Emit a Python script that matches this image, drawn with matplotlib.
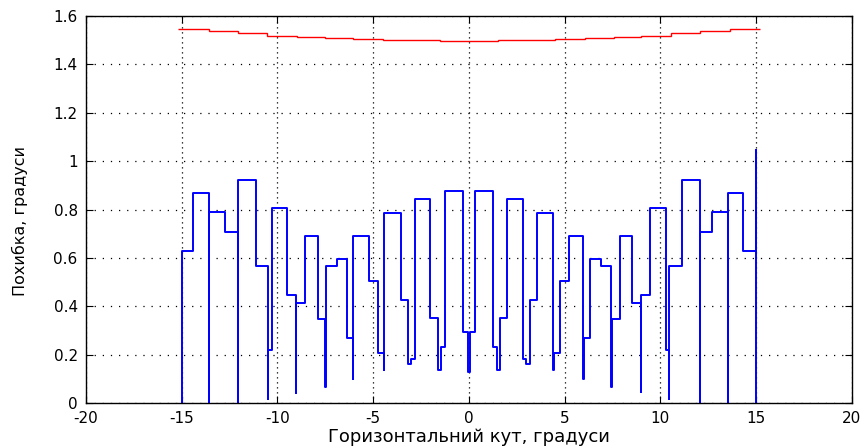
import matplotlib
matplotlib.use("Agg")
import matplotlib.pyplot as plt
from matplotlib.ticker import FuncFormatter

plt.rcParams['axes.unicode_minus'] = False

# blue curve: vertices of the stepped error line (angle, error)
blue_x = [-15, -15, -14.42, -14.42, -13.55, -13.55, -13.55, -12.75, -12.75, -12.07,
          -12.07, -12.07, -11.13, -11.13, -10.5, -10.5, -10.5, -10.31, -10.31, -9.49,
          -9.49, -9.02, -9.02, -9.02, -8.55, -8.55, -7.9, -7.9, -7.52, -7.52,
          -7.49, -7.49, -6.87, -6.87, -6.35, -6.35, -6.07, -6.07, -6.03, -6.03,
          -5.23, -5.23, -4.75, -4.75, -4.46, -4.46, -4.42, -4.42, -3.57, -3.57,
          -3.2, -3.2, -3.02, -3.02, -2.83, -2.83, -2.01, -2.01, -1.62, -1.62,
          -1.48, -1.48, -1.24, -1.24, -0.32, -0.32, -0.03, -0.03, 0.03, 0.03,
          0.33, 0.33, 1.25, 1.25, 1.46, 1.46, 1.63, 1.63, 2.0, 2.0,
          2.82, 2.82, 3.0, 3.0, 3.2, 3.2, 3.56, 3.56, 4.4, 4.4,
          4.44, 4.44, 4.74, 4.74, 5.21, 5.21, 5.96, 5.96, 6.0, 6.0,
          6.34, 6.34, 6.88, 6.88, 7.43, 7.43, 7.47, 7.47, 7.87, 7.87,
          8.53, 8.53, 9.0, 9.0, 9.0, 9.47, 9.47, 10.28, 10.28, 10.47,
          10.47, 10.47, 11.12, 11.12, 12.08, 12.08, 12.08, 12.7, 12.7, 13.52,
          13.52, 13.52, 14.33, 14.33, 15.0, 15.0, 15.0]
blue_y = [0, 0.63, 0.63, 0.868, 0.868, 0, 0.789, 0.789, 0.709, 0.709,
          0, 0.923, 0.923, 0.567, 0.567, 0.017, 0.22, 0.22, 0.806, 0.806,
          0.446, 0.446, 0.043, 0.414, 0.414, 0.692, 0.692, 0.348, 0.348, 0.065,
          0.065, 0.567, 0.567, 0.596, 0.596, 0.267, 0.267, 0.099, 0.099, 0.692,
          0.692, 0.506, 0.506, 0.208, 0.208, 0.137, 0.137, 0.784, 0.784, 0.426,
          0.426, 0.161, 0.161, 0.182, 0.182, 0.843, 0.843, 0.352, 0.352, 0.137,
          0.137, 0.23, 0.23, 0.876, 0.876, 0.292, 0.292, 0.127, 0.127, 0.292,
          0.292, 0.876, 0.876, 0.23, 0.23, 0.137, 0.137, 0.352, 0.352, 0.843,
          0.843, 0.182, 0.182, 0.161, 0.161, 0.426, 0.426, 0.784, 0.784, 0.137,
          0.137, 0.208, 0.208, 0.506, 0.506, 0.692, 0.692, 0.099, 0.099, 0.267,
          0.267, 0.596, 0.596, 0.568, 0.568, 0.065, 0.065, 0.348, 0.348, 0.692,
          0.692, 0.414, 0.414, 0.044, 0.445, 0.445, 0.806, 0.806, 0.22, 0.22,
          0.017, 0.567, 0.567, 0.923, 0.923, 0, 0.709, 0.709, 0.789, 0.789,
          0, 0.868, 0.868, 0.63, 0.63, 1.047, 0]

# red curve: step edges and levels
red_edges = [-15.2, -13.6, -12.05, -10.52, -9.0, -7.52, -6.05, -4.5, -1.5, 1.5,
             4.48, 6.05, 7.57, 9.0, 10.55, 12.05, 13.62, 15.2]
red_levels = [1.548, 1.540, 1.529, 1.519, 1.512, 1.508, 1.504, 1.500, 1.495,
              1.500, 1.505, 1.511, 1.515, 1.519, 1.529, 1.539, 1.547]

x_ticks = [-20, -15, -10, -5, 0, 5, 10, 15, 20]
y_ticks = [0, 0.2, 0.4, 0.6, 0.8, 1.0, 1.2, 1.4, 1.6]

fig = plt.figure(figsize=(8.64, 4.46), dpi=100)
ax = fig.add_axes([0.0995, 0.0964, 0.8865, 0.8676])

ax.plot(blue_x, blue_y, color='#0000ff', lw=1.4)
ax.stairs(red_levels, red_edges, baseline=None, color='#ff0000', lw=1.0)

ax.set_xlim(-20, 20)
ax.set_ylim(0, 1.6)
ax.set_xticks(x_ticks)
ax.set_yticks(y_ticks)
ax.yaxis.set_major_formatter(FuncFormatter(lambda v, p: '%g' % v))
ax.tick_params(direction='in', length=5, top=True, right=True, labelsize=11, pad=6)

ax.xaxis.grid(True, color='black', linestyle=(0, (1, 3)), lw=0.9)
ax.yaxis.grid(True, color='black', linestyle=(0, (1, 5.5)), lw=0.9)
for s in ax.spines.values():
    s.set_linewidth(1.0)

ax.set_xlabel('Горизонтальний кут, градуси', fontsize=13, labelpad=1)
ax.set_ylabel('Похибка, градуси', fontsize=11.5)
ax.yaxis.set_label_coords(-0.076, 0.47)

fig.savefig('out.png', dpi=100)
